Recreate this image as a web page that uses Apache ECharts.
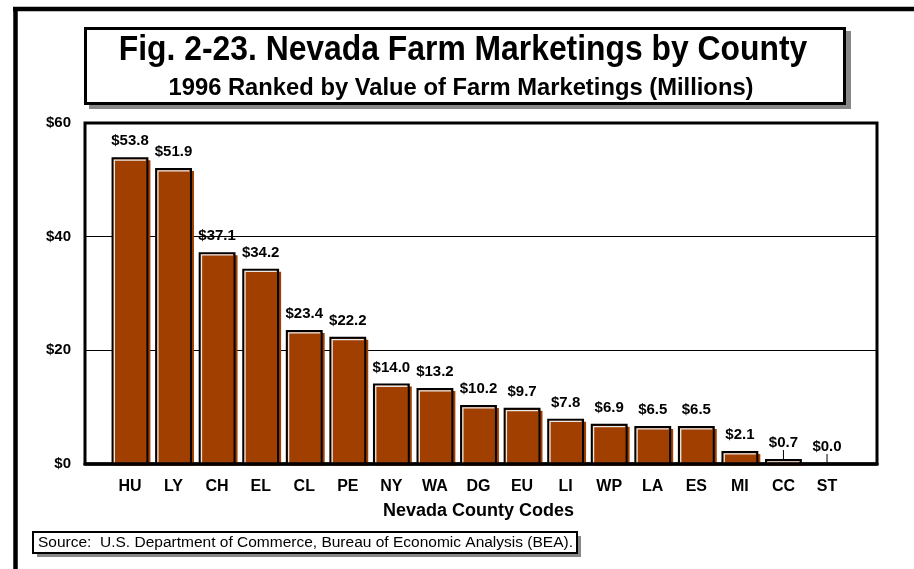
<!DOCTYPE html>
<html>
<head>
<meta charset="utf-8">
<script src="https://cdn.jsdelivr.net/npm/echarts@6/dist/echarts.min.js"></script>
<style>
  html, body { margin: 0; padding: 0; background: #fff; }
  #chart { width: 914px; height: 569px; }
</style>
</head>
<body>
<div id="chart"></div>
<script>
// County codes, ranked by 1996 farm marketings
const categories = ['HU', 'LY', 'CH', 'EL', 'CL', 'PE', 'NY', 'WA', 'DG', 'EU', 'LI', 'WP', 'LA', 'ES', 'MI', 'CC', 'ST'];
// Value of farm marketings, millions of dollars
const values = [53.8, 51.9, 37.1, 34.2, 23.4, 22.2, 14.0, 13.2, 10.2, 9.7, 7.8, 6.9, 6.5, 6.5, 2.1, 0.7, 0.0];
// Value axis ticks
const yMin = 0, yMax = 60, yStep = 20;

const titleText = 'Fig. 2-23. Nevada Farm Marketings by County';
const subtitleText = '1996 Ranked by Value of Farm Marketings (Millions)';
const axisTitle = 'Nevada County Codes';
const sourceText = 'Source:  U.S. Department of Commerce, Bureau of Economic Analysis (BEA).';

const BROWN = '#A13F00';
const FONT = '"Liberation Sans", Arial, sans-serif';

const chart = echarts.init(document.getElementById('chart'), null, { renderer: 'canvas' });

function money(v) { return '$' + v.toFixed(1); }

function renderBar(params, api) {
  const idx = api.value(0);
  const v = api.value(1);
  const top = api.coord([idx, v]);
  const base = api.coord([idx, 0]);
  const bw = api.size([1, 0])[0] * 0.8;
  const x0 = top[0] - bw / 2;
  const h = base[1] - top[1];
  const children = [];
  if (h > 0.5) {
    // offset brown backing
    children.push({ type: 'rect', shape: { x: x0 + 3, y: top[1] + 2, width: bw, height: h },
      style: { fill: BROWN } });
  }
  // front face
  children.push({ type: 'rect', shape: { x: x0, y: top[1], width: bw, height: h },
    style: { fill: BROWN, stroke: '#000', lineWidth: 2 } });
  if (h > 0.5) {
    // light edge along the top and left
    children.push({ type: 'polyline',
      shape: { points: [[x0 + 1.8, base[1]], [x0 + 1.8, top[1] + 1.8], [x0 + bw - 1.5, top[1] + 1.8]] },
      style: { stroke: '#e8e8e8', lineWidth: 1.3, fill: null } });
  }
  children.push({ type: 'text', x: top[0], y: top[1] - 17,
    style: { text: money(v), textAlign: 'center', textVerticalAlign: 'middle',
             font: 'bold 15px ' + FONT, fill: '#000' } });
  if (v < 1) {
    children.push({ type: 'line', shape: { x1: top[0], y1: top[1] - 10, x2: top[0], y2: top[1] },
      style: { stroke: '#000', lineWidth: 1 } });
  }
  return { type: 'group', children: children };
}

const option = {
  backgroundColor: '#fff',
  animation: false,
  grid: [
    { left: 85, top: 123, width: 792, height: 341, show: true, borderColor: '#000', borderWidth: 3, backgroundColor: 'transparent' },
    { left: 108.2, top: 123, width: 740.6, height: 341, show: false }
  ],
  xAxis: [
    { gridIndex: 0, type: 'value', min: 0, max: 1, show: true, z: 5,
      axisLine: { show: true, onZero: false, lineStyle: { color: '#000', width: 3.5 } },
      axisTick: { show: false }, axisLabel: { show: false }, splitLine: { show: false } },
    { gridIndex: 1, type: 'category', data: categories, boundaryGap: true,
      axisLine: { show: false }, axisTick: { show: false },
      axisLabel: { margin: 15, color: '#000', fontFamily: FONT, fontWeight: 'bold', fontSize: 16 },
      name: axisTitle, nameLocation: 'middle', nameGap: 38,
      nameTextStyle: { color: '#000', fontFamily: FONT, fontWeight: 'bold', fontSize: 18 } }
  ],
  yAxis: [
    { gridIndex: 0, type: 'value', min: yMin, max: yMax, interval: yStep,
      axisLine: { show: false }, axisTick: { show: false },
      axisLabel: { margin: 14, color: '#000', fontFamily: FONT, fontWeight: 'bold', fontSize: 15,
                   formatter: function (v) { return '$' + v; } },
      splitLine: { show: true, lineStyle: { color: '#000', width: 1 } } },
    { gridIndex: 1, type: 'value', min: yMin, max: yMax, interval: yStep, show: false,
      splitLine: { show: false } }
  ],
  series: [
    { type: 'custom', xAxisIndex: 1, yAxisIndex: 1, z: 3, clip: false,
      renderItem: renderBar,
      encode: { x: 0, y: 1 },
      data: values.map(function (v, i) { return [i, v]; }) }
  ],
  graphic: [
    // outer frame edges
    { type: 'line', shape: { x1: 13, y1: 9, x2: 914, y2: 9 }, style: { stroke: '#000', lineWidth: 4.5 } },
    { type: 'line', shape: { x1: 15.5, y1: 7, x2: 15.5, y2: 569 }, style: { stroke: '#000', lineWidth: 4.5 } },
    // title box with drop shadow
    { type: 'rect', shape: { x: 89, y: 31, width: 762, height: 78 }, style: { fill: '#888' } },
    { type: 'rect', shape: { x: 85.5, y: 28.5, width: 759, height: 75 }, style: { fill: '#fff', stroke: '#000', lineWidth: 3 } },
    { type: 'text', x: 463, y: 50, scaleX: 0.91, style: { text: titleText, textAlign: 'center', textVerticalAlign: 'middle',
      font: 'bold 35px ' + FONT, fill: '#000' } },
    { type: 'text', x: 461, y: 88, scaleX: 0.97, style: { text: subtitleText, textAlign: 'center', textVerticalAlign: 'middle',
      font: 'bold 24.5px ' + FONT, fill: '#000' } },
    // source note box
    { type: 'rect', shape: { x: 37, y: 536, width: 544, height: 21 }, style: { fill: '#888' } },
    { type: 'rect', shape: { x: 33, y: 532, width: 544, height: 21 }, style: { fill: '#fff', stroke: '#000', lineWidth: 2 } },
    { type: 'text', x: 38, y: 543, style: { text: sourceText, textAlign: 'left', textVerticalAlign: 'middle',
      font: '15.5px ' + FONT, fill: '#000' } }
  ]
};

chart.setOption(option);
</script>
</body>
</html>
